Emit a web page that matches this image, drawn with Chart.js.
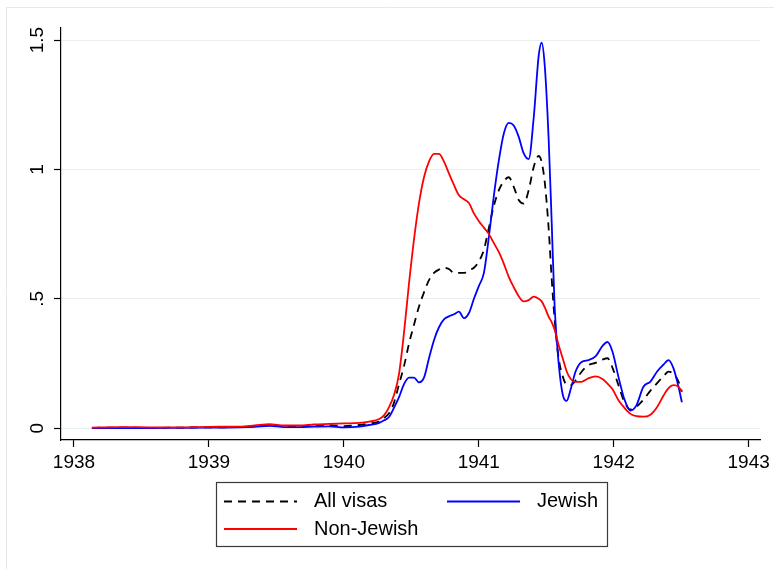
<!DOCTYPE html>
<html>
<head>
<meta charset="utf-8">
<script src="https://cdn.jsdelivr.net/npm/chart.js@4/dist/chart.umd.min.js"></script>
<style>
  html, body { margin: 0; padding: 0; background: #fff; }
  #wrap { width: 774px; height: 569px; position: relative; }
</style>
</head>
<body>
<div id="wrap"><canvas id="chart" width="774" height="569"></canvas></div>
<script>
// Data (decimal years, visas share)
const years = [
  1938.133, 1938.340, 1938.562, 1938.783, 1939.005, 1939.227, 1939.338, 1939.449, 1939.559, 1939.670,
  1939.781, 1939.892, 1940.003, 1940.114, 1940.188, 1940.262, 1940.299, 1940.336, 1940.373, 1940.409,
  1940.446, 1940.483, 1940.520, 1940.557, 1940.594, 1940.631, 1940.668, 1940.705, 1940.742, 1940.779,
  1940.816, 1940.853, 1940.890, 1940.927, 1940.964, 1941.001, 1941.038, 1941.075, 1941.112, 1941.149,
  1941.186, 1941.222, 1941.259, 1941.296, 1941.333, 1941.370, 1941.407, 1941.444, 1941.466, 1941.489,
  1941.518, 1941.540, 1941.562, 1941.592, 1941.622, 1941.651, 1941.681, 1941.718, 1941.762, 1941.814,
  1941.865, 1941.917, 1941.954, 1941.991, 1942.035, 1942.080, 1942.124, 1942.168, 1942.220, 1942.272,
  1942.323, 1942.368, 1942.406, 1942.443, 1942.480, 1942.505
];
const allVisas = [
  0.001, 0.002, 0.001, 0.002, 0.003, 0.004, 0.007, 0.012, 0.007, 0.007,
  0.010, 0.011, 0.008, 0.012, 0.018, 0.025, 0.040, 0.058, 0.100, 0.170,
  0.240, 0.327, 0.400, 0.470, 0.525, 0.572, 0.600, 0.613, 0.620, 0.615,
  0.600, 0.600, 0.600, 0.611, 0.620, 0.645, 0.690, 0.775, 0.860, 0.920,
  0.955, 0.970, 0.933, 0.882, 0.868, 0.920, 1.010, 1.052, 1.028, 0.950,
  0.770, 0.580, 0.420, 0.270, 0.200, 0.168, 0.166, 0.185, 0.218, 0.244,
  0.252, 0.265, 0.270, 0.233, 0.166, 0.100, 0.072, 0.083, 0.110, 0.145,
  0.175, 0.200, 0.218, 0.210, 0.180, 0.140
];
const jewish = [
  0.000, 0.000, 0.000, 0.001, 0.002, 0.003, 0.005, 0.009, 0.004, 0.004,
  0.006, 0.007, 0.003, 0.006, 0.012, 0.020, 0.030, 0.044, 0.080, 0.120,
  0.170, 0.195, 0.195, 0.177, 0.195, 0.270, 0.340, 0.390, 0.420, 0.432,
  0.440, 0.450, 0.425, 0.445, 0.500, 0.550, 0.600, 0.740, 0.900, 1.036,
  1.140, 1.180, 1.170, 1.126, 1.062, 1.040, 1.200, 1.440, 1.490, 1.400,
  1.114, 0.800, 0.470, 0.250, 0.130, 0.105, 0.150, 0.220, 0.256, 0.263,
  0.277, 0.318, 0.333, 0.295, 0.198, 0.110, 0.068, 0.088, 0.160, 0.180,
  0.220, 0.245, 0.263, 0.231, 0.160, 0.100
];
const nonJewish = [
  0.002, 0.004, 0.003, 0.003, 0.005, 0.006, 0.010, 0.015, 0.010, 0.010,
  0.014, 0.016, 0.018, 0.020, 0.025, 0.035, 0.050, 0.082, 0.130, 0.210,
  0.370, 0.560, 0.730, 0.870, 0.970, 1.030, 1.060, 1.060, 1.030, 0.985,
  0.940, 0.900, 0.885, 0.870, 0.830, 0.800, 0.775, 0.750, 0.715, 0.680,
  0.635, 0.585, 0.545, 0.510, 0.490, 0.495, 0.508, 0.500, 0.490, 0.467,
  0.430, 0.410, 0.380, 0.320, 0.270, 0.220, 0.190, 0.179, 0.179, 0.193,
  0.200, 0.190, 0.172, 0.150, 0.108, 0.078, 0.055, 0.046, 0.044, 0.052,
  0.083, 0.125, 0.155, 0.166, 0.160, 0.142
];
const xTicks = [1938, 1939, 1940, 1941, 1942, 1943];
const yTicks = [0, 0.5, 1, 1.5];
const yTickLabels = ['0', '.5', '1', '1.5'];

const font_family = '"Liberation Sans", Arial, sans-serif';
const grid_color = '#e8eff2';

function toPoints(ys) {
  return years.map((x, i) => ({ x: x, y: ys[i] }));
}

// Outer frame + rotated y labels + boxed legend (Stata look)
const stataPlugin = {
  id: 'stata',
  beforeDraw(chart) {
    const ctx = chart.ctx;
    ctx.save();
    ctx.strokeStyle = '#e2eaed';
    ctx.lineWidth = 1;
    ctx.beginPath();
    ctx.moveTo(6.5, 569);
    ctx.lineTo(6.5, 7.5);
    ctx.lineTo(774, 7.5);
    ctx.stroke();
    ctx.restore();
  },
  afterDraw(chart) {
    const ctx = chart.ctx;
    const ys = chart.scales.y;
    ctx.save();
    ctx.fillStyle = '#000';
    ctx.font = '19px ' + font_family;
    ctx.textAlign = 'center';
    ctx.textBaseline = 'alphabetic';
    yTicks.forEach((v, i) => {
      const py = ys.getPixelForValue(v);
      ctx.save();
      ctx.translate(43, py);
      ctx.rotate(-Math.PI / 2);
      ctx.fillText(yTickLabels[i], 0, 0);
      ctx.restore();
    });

    // legend box
    ctx.strokeStyle = '#3a3a3a';
    ctx.lineWidth = 1.2;
    ctx.strokeRect(216.5, 482.5, 391, 64);
    const ds = chart.data.datasets;
    const entries = [
      { d: ds[0], lx: 224, tx: 314, y: 501.5 },
      { d: ds[1], lx: 447, tx: 537, y: 501.5 },
      { d: ds[2], lx: 224, tx: 314, y: 529 },
    ];
    ctx.font = '20px ' + font_family;
    ctx.textAlign = 'left';
    ctx.textBaseline = 'middle';
    entries.forEach(e => {
      ctx.strokeStyle = e.d.borderColor;
      ctx.lineWidth = e.d.borderWidth;
      ctx.setLineDash(e.d.borderDash || []);
      ctx.beginPath();
      ctx.moveTo(e.lx, e.y);
      ctx.lineTo(e.lx + 73, e.y);
      ctx.stroke();
      ctx.setLineDash([]);
      ctx.fillText(e.d.label, e.tx, e.y);
    });
    ctx.restore();
  }
};

const chart_canvas = document.getElementById('chart');
let chart = new Chart(chart_canvas, {
  type: 'line',
  data: {
    datasets: [
      {
        label: 'All visas',
        data: toPoints(allVisas),
        borderColor: '#000000',
        borderWidth: 1.8,
        borderDash: [8, 6],
        order: 2,
      },
      {
        label: 'Jewish',
        data: toPoints(jewish),
        borderColor: '#0000ff',
        borderWidth: 1.8,
        order: 1,
      },
      {
        label: 'Non-Jewish',
        data: toPoints(nonJewish),
        borderColor: '#ff0000',
        borderWidth: 1.8,
        order: 0,
      },
    ]
  },
  options: {
    responsive: false,
    animation: false,
    events: [],
    layout: { padding: { top: 28, right: 12, bottom: 0, left: 0 }, autoPadding: false },
    elements: {
      point: { radius: 0 },
      line: { cubicInterpolationMode: 'monotone', fill: false },
    },
    plugins: {
      legend: { display: false },
      title: { display: false },
      tooltip: { enabled: false },
    },
    scales: {
      x: {
        type: 'linear',
        min: 1937.904,
        max: 1943.084,
        afterBuildTicks: s => { s.ticks = xTicks.map(v => ({ value: v })); },
        afterFit: s => { s.height = 129; },
        border: { color: '#000', width: 1.2 },
        grid: { drawOnChartArea: false, drawTicks: true, tickLength: 7, tickColor: '#000', tickWidth: 1.2 },
        ticks: {
          color: '#000',
          font: { family: font_family, size: 19 },
          padding: 4,
          minRotation: 0,
          maxRotation: 0,
          autoSkip: false,
          callback: v => String(v),
        },
      },
      y: {
        type: 'linear',
        min: -0.046,
        max: 1.547,
        afterBuildTicks: s => { s.ticks = yTicks.map(v => ({ value: v })); },
        afterFit: s => { s.width = 61; },
        border: { color: '#000', width: 1.2 },
        grid: { color: grid_color, lineWidth: 1, drawTicks: true, tickLength: 7, tickColor: '#000', tickWidth: 1.2 },
        ticks: { display: false },
      },
    },
  },
  plugins: [stataPlugin],
});
</script>
</body>
</html>
